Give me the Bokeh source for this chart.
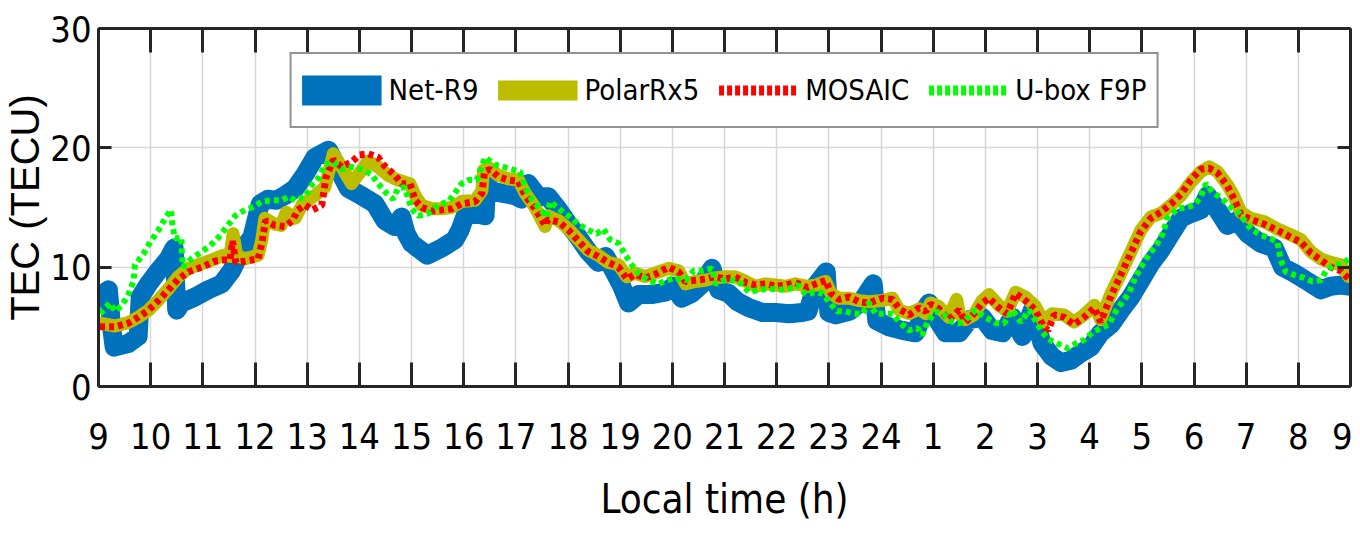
from bokeh.plotting import figure
from bokeh.models import FixedTicker, LinearAxis, Legend, LegendItem, Range1d, CustomLabelingPolicy
from bokeh.embed import file_html
from bokeh.resources import INLINE

# ---------------- data (hours continue past midnight: 25 = 1 h, 33 = 9 h) -------------
tick_hours = list(range(9, 34))
tick_labels = ["9", "10", "11", "12", "13", "14", "15", "16", "17", "18", "19", "20",
               "21", "22", "23", "24", "1", "2", "3", "4", "5", "6", "7", "8", "9"]
y_ticks = [0, 10, 20, 30]

hours_r9 = [9.0, 9.19, 9.25, 9.3, 9.57, 9.76, 9.8, 9.96, 10.15, 10.34, 10.45, 10.5, 10.59,
            10.85, 11.1, 11.36, 11.55, 11.74, 11.94, 12.1, 12.25, 12.41, 12.57, 12.77, 12.96,
            13.15, 13.41, 13.6, 13.79, 14.04, 14.3, 14.49, 14.68, 14.81, 14.9, 15.0, 15.3,
            15.58, 15.83, 15.93, 16.03, 16.22, 16.41, 16.44, 16.54, 16.73, 16.98, 17.11, 17.24,
            17.43, 17.62, 17.82, 18.01, 18.2, 18.39, 18.58, 18.72, 18.9, 19.03, 19.16, 19.35,
            19.6, 19.86, 20.02, 20.18, 20.37, 20.57, 20.76, 20.89, 21.08, 21.25, 21.47, 21.73,
            21.98, 22.24, 22.49, 22.6, 22.75, 22.95, 23.0, 23.13, 23.39, 23.64, 23.85, 23.92,
            24.15, 24.41, 24.66, 24.86, 24.92, 25.05, 25.24, 25.5, 25.69, 25.94, 26.13, 26.33,
            26.52, 26.71, 26.9, 27.09, 27.28, 27.45, 27.64, 27.83, 28.02, 28.21, 28.41, 28.6,
            28.79, 28.98, 29.17, 29.36, 29.56, 29.75, 29.94, 30.13, 30.26, 30.45, 30.64, 30.83,
            31.03, 31.28, 31.54, 31.7, 31.92, 32.18, 32.43, 32.62, 32.81, 33.0]
tec_r9 = [7.5, 8.1, 5.0, 3.3, 3.6, 4.2, 7.5, 8.6, 9.7, 10.7, 11.6, 6.4, 7.0,
          7.5, 8.1, 8.6, 9.7, 11.4, 12.5, 15.3, 15.7, 15.6, 16.0, 16.6, 17.8,
          19.2, 19.8, 18.2, 16.6, 16.0, 15.3, 13.9, 13.4, 14.2, 12.8, 12.0, 11.0,
          11.6, 12.3, 13.1, 14.3, 14.5, 14.3, 17.0, 16.4, 16.2, 16.0, 15.7, 17.0,
          15.9, 15.9, 14.8, 13.6, 12.5, 11.3, 10.4, 10.9, 9.5, 8.4, 7.0, 7.7,
          7.7, 7.9, 8.4, 7.4, 7.8, 8.6, 9.9, 8.1, 7.8, 7.1, 6.6, 6.2,
          6.2, 6.1, 6.2, 6.3, 8.5, 9.6, 6.2, 6.0, 6.3, 7.2, 8.6, 5.5,
          5.0, 4.7, 4.5, 6.6, 7.0, 5.8, 4.5, 4.5, 5.6, 5.8, 4.7, 4.5,
          5.8, 4.2, 6.4, 3.6, 2.5, 2.0, 2.2, 2.8, 3.3, 4.5, 5.2, 6.4,
          7.5, 8.9, 10.3, 11.4, 12.8, 14.1, 14.5, 14.8, 16.0, 14.8, 13.5, 13.9,
          12.8, 12.0, 11.6, 10.0, 9.5, 8.8, 8.1, 8.4, 8.5, 8.4]

hours_prx5 = [9.03, 9.32, 9.57, 9.76, 9.96, 10.15, 10.34, 10.53, 10.72, 10.98, 11.23, 11.39,
              11.52, 11.58, 11.65, 11.81, 12.06, 12.13, 12.19, 12.38, 12.5, 12.6, 12.77, 12.9,
              13.15, 13.34, 13.5, 13.66, 13.85, 14.04, 14.17, 14.36, 14.55, 14.74, 14.97, 15.07,
              15.19, 15.39, 15.58, 15.77, 15.96, 16.22, 16.35, 16.38, 16.47, 16.66, 16.86, 17.05,
              17.18, 17.37, 17.56, 17.62, 17.82, 18.01, 18.2, 18.39, 18.58, 18.77, 18.97, 19.13,
              19.29, 19.48, 19.67, 19.93, 20.12, 20.25, 20.44, 20.63, 20.82, 21.01, 21.2, 21.41,
              21.6, 21.79, 21.98, 22.17, 22.36, 22.59, 22.75, 22.94, 23.04, 23.19, 23.39, 23.58,
              23.77, 24.03, 24.22, 24.35, 24.54, 24.73, 24.86, 24.95, 25.11, 25.3, 25.45, 25.5,
              25.62, 25.78, 25.94, 26.07, 26.26, 26.42, 26.58, 26.77, 26.96, 27.12, 27.28, 27.51,
              27.7, 27.89, 28.09, 28.21, 28.41, 28.6, 28.79, 28.98, 29.17, 29.36, 29.56, 29.75,
              29.94, 30.13, 30.29, 30.45, 30.64, 30.77, 30.9, 31.09, 31.35, 31.6, 31.86, 32.05,
              32.24, 32.43, 32.62, 32.81, 32.97]
tec_prx5 = [5.3, 5.07, 5.35, 5.8, 6.4, 7.24, 8.2, 9.2, 9.9, 10.3, 10.7, 11.0,
            10.9, 12.8, 11.0, 10.7, 11.0, 12.3, 14.1, 13.6, 13.5, 14.6, 14.1, 15.2,
            16.0, 16.7, 19.5, 18.4, 17.0, 18.1, 18.9, 18.4, 17.7, 17.3, 17.0, 16.0,
            15.2, 14.9, 14.9, 15.0, 15.5, 15.6, 16.4, 18.1, 18.4, 17.7, 17.4, 17.3,
            16.2, 15.0, 13.4, 14.3, 13.9, 13.2, 12.3, 11.4, 11.0, 10.4, 10.2, 9.2,
            9.5, 9.2, 9.5, 9.9, 9.7, 8.6, 8.8, 8.9, 9.1, 9.2, 9.2, 8.8,
            8.4, 8.6, 8.5, 8.4, 8.6, 8.4, 8.5, 8.8, 7.8, 7.4, 7.4, 7.2,
            7.1, 7.2, 7.4, 6.4, 6.1, 6.5, 6.1, 7.0, 6.7, 5.8, 7.3, 6.1,
            5.6, 6.0, 7.2, 7.7, 6.8, 6.3, 7.9, 7.5, 6.7, 5.4, 6.1, 6.0,
            5.4, 6.0, 6.8, 5.6, 7.8, 9.5, 11.3, 13.1, 14.2, 14.5, 15.2, 16.0,
            17.1, 18.0, 18.4, 18.0, 16.9, 15.9, 14.6, 14.1, 13.8, 13.2, 12.7, 12.3,
            11.3, 10.7, 10.4, 10.2, 9.2]

hours_mosaic = [9.03, 9.32, 9.57, 9.76, 9.96, 10.15, 10.34, 10.53, 10.72, 10.98, 11.23, 11.39,
                11.52, 11.57, 11.63, 11.81, 12.06, 12.13, 12.2, 12.38, 12.57, 12.72, 12.82, 12.96,
                13.1, 13.28, 13.36, 13.5, 13.66, 13.85, 14.0, 14.17, 14.36, 14.48, 14.68, 14.81,
                14.97, 15.07, 15.2, 15.39, 15.58, 15.77, 15.96, 16.22, 16.35, 16.4, 16.5, 16.66,
                16.86, 17.05, 17.18, 17.37, 17.56, 17.62, 17.82, 18.01, 18.2, 18.39, 18.58, 18.77,
                18.97, 19.13, 19.29, 19.48, 19.67, 19.93, 20.12, 20.25, 20.44, 20.63, 20.82, 21.01,
                21.2, 21.41, 21.6, 21.79, 21.98, 22.17, 22.36, 22.59, 22.75, 22.94, 23.04, 23.19,
                23.39, 23.58, 23.77, 24.03, 24.22, 24.35, 24.54, 24.73, 24.86, 24.95, 25.11, 25.3,
                25.5, 25.62, 25.78, 25.94, 26.07, 26.26, 26.42, 26.58, 26.77, 26.96, 27.12, 27.2,
                27.32, 27.51, 27.7, 27.89, 28.09, 28.21, 28.41, 28.6, 28.79, 28.98, 29.17, 29.36,
                29.56, 29.75, 29.94, 30.13, 30.29, 30.45, 30.64, 30.77, 30.9, 31.09, 31.35, 31.6,
                31.86, 32.05, 32.24, 32.43, 32.62, 32.81, 32.97]
tec_mosaic = [5.0, 5.0, 5.3, 5.8, 6.4, 7.2, 8.1, 9.0, 9.6, 10.0, 10.5, 10.6,
              10.6, 12.2, 10.4, 10.5, 10.7, 12.0, 13.9, 13.5, 13.4, 13.9, 14.8, 15.2,
              14.8, 15.2, 17.5, 19.0, 18.4, 18.8, 19.4, 19.5, 19.2, 18.5, 17.7, 17.0,
              17.0, 15.6, 15.0, 14.7, 14.8, 14.9, 15.3, 15.5, 16.2, 18.0, 18.2, 17.6,
              17.3, 17.2, 16.0, 14.9, 13.5, 14.0, 13.8, 13.1, 12.2, 11.3, 10.9, 10.4,
              10.0, 9.0, 9.4, 9.1, 9.4, 10.0, 9.6, 8.8, 8.9, 9.0, 9.2, 9.0,
              9.2, 8.7, 8.5, 8.6, 8.4, 8.5, 8.7, 8.3, 8.6, 8.9, 7.8, 7.3,
              7.5, 7.1, 7.0, 7.4, 7.3, 6.5, 6.0, 6.6, 6.3, 6.9, 6.5, 5.6,
              6.4, 5.4, 6.1, 7.0, 7.4, 6.6, 6.1, 7.8, 7.2, 6.4, 5.0, 4.7,
              6.0, 5.8, 5.2, 5.8, 6.6, 5.4, 7.6, 9.4, 11.2, 13.0, 14.1, 14.6,
              15.3, 16.1, 17.3, 18.2, 18.3, 17.9, 16.8, 15.7, 14.4, 14.0, 13.6, 13.1,
              12.5, 12.1, 11.2, 10.6, 10.0, 9.7, 9.0]

hours_f9p = [9.03, 9.22, 9.32, 9.45, 9.57, 9.67, 9.7, 9.86, 9.99, 10.15, 10.28, 10.39, 10.42,
             10.47, 10.59, 10.6, 10.62, 10.78, 10.98, 11.14, 11.3, 11.46, 11.62, 11.81, 11.94,
             12.13, 12.32, 12.51, 12.64, 12.77, 12.96, 13.09, 13.22, 13.34, 13.5, 13.66, 13.85,
             14.04, 14.23, 14.36, 14.52, 14.65, 14.74, 14.87, 15.0, 15.13, 15.32, 15.51, 15.71,
             15.83, 15.96, 16.09, 16.25, 16.41, 16.6, 16.76, 16.92, 17.08, 17.18, 17.3, 17.46,
             17.59, 17.66, 17.85, 18.04, 18.2, 18.39, 18.55, 18.68, 18.81, 18.97, 19.09, 19.22,
             19.35, 19.54, 19.73, 19.89, 20.05, 20.25, 20.41, 20.57, 20.76, 20.82, 20.98, 21.17,
             21.33, 21.47, 21.66, 21.85, 22.04, 22.24, 22.4, 22.56, 22.72, 22.88, 23.0, 23.16,
             23.32, 23.48, 23.64, 23.77, 23.9, 24.06, 24.22, 24.35, 24.54, 24.7, 24.79, 24.89,
             25.05, 25.21, 25.37, 25.5, 25.62, 25.81, 26.0, 26.2, 26.36, 26.52, 26.68, 26.84,
             27.03, 27.19, 27.38, 27.58, 27.73, 27.89, 28.05, 28.21, 28.37, 28.5, 28.63, 28.76,
             28.88, 29.01, 29.14, 29.27, 29.4, 29.49, 29.68, 29.84, 30.0, 30.13, 30.23, 30.35,
             30.55, 30.71, 30.87, 31.09, 31.28, 31.47, 31.6, 31.66, 31.76, 31.95, 32.11, 32.27,
             32.43, 32.53, 32.69, 32.85, 32.97]
tec_f9p = [6.1, 7.0, 6.3, 6.8, 7.7, 8.8, 10.2, 11.1, 12.1, 13.1, 14.1, 14.8, 13.4,
           12.4, 12.5, 11.0, 10.0, 10.7, 11.3, 11.8, 12.5, 13.4, 14.3, 14.8, 15.0,
           15.5, 15.6, 15.6, 15.9, 15.6, 15.9, 16.9, 17.5, 18.6, 18.8, 18.2, 18.4,
           18.2, 17.8, 17.0, 16.2, 15.7, 16.6, 16.7, 14.9, 14.3, 14.5, 15.2, 15.5,
           16.2, 17.0, 17.3, 17.3, 19.2, 18.6, 18.4, 18.2, 18.0, 16.6, 15.7, 14.9,
           14.2, 15.5, 14.8, 14.2, 13.6, 13.1, 12.8, 13.2, 12.3, 12.0, 11.1, 10.2,
           9.5, 8.9, 8.6, 8.9, 9.1, 8.9, 9.7, 9.7, 9.9, 8.6, 8.9, 8.9,
           8.6, 7.9, 8.1, 8.2, 8.1, 8.2, 8.5, 7.7, 7.9, 7.8, 7.1, 6.3,
           6.3, 6.1, 6.1, 7.0, 6.1, 6.1, 6.1, 5.4, 4.7, 4.9, 4.3, 5.4,
           6.3, 6.0, 5.4, 5.3, 5.6, 6.4, 5.8, 5.3, 5.3, 6.4, 5.4, 6.4,
           5.0, 4.0, 3.6, 3.2, 3.6, 3.9, 4.5, 4.9, 5.2, 6.3, 7.1, 7.9,
           9.2, 10.2, 11.1, 11.8, 12.8, 14.1, 14.9, 15.0, 15.2, 15.9, 17.0, 16.3,
           15.7, 15.0, 14.5, 13.2, 12.7, 12.4, 12.1, 10.6, 9.6, 9.3, 9.1, 8.8,
           8.9, 9.7, 10.2, 10.3, 10.7]

series_names = ["Net-R9", "PolarRx5", "MOSAIC", "U-box F9P"]

# ---------------- styling -------------------------------------------------------------
NARROW = "'Liberation Sans Narrow', 'DejaVu Sans Condensed', 'Roboto Condensed', 'Liberation Sans', sans-serif"
AX = "#262626"
BLUE, OLIVE, RED, GREEN = "#0072BD", "#BDBD00", "#FF0000", "#00FF00"
NAN = float("nan")

p = figure(width=1352, height=535, x_range=Range1d(9, 33), y_range=Range1d(0, 30),
           output_backend="svg", toolbar_location=None,
           min_border_left=98, min_border_right=2, min_border_top=28, min_border_bottom=149)
p.outline_line_color = None
p.background_fill_color = "white"

bottom = p.below[0]
left = p.left[0]

r_r9 = p.line(hours_r9, tec_r9, line_color=BLUE, line_width=19, line_join="round", line_cap="round")
r_px = p.line(hours_prx5, tec_prx5, line_color=OLIVE, line_width=13, line_join="round", line_cap="round")
r_mo = p.line(hours_mosaic, tec_mosaic, line_color=RED, line_width=7, line_dash="5 4")
r_f9 = p.line(hours_f9p, tec_f9p, line_color=GREEN, line_width=6, line_dash="5 4")

# legend-only tokens (a single NaN point draws nothing in the plot area)
l_r9 = p.line([NAN], [NAN], line_color=BLUE, line_width=30)
l_px = p.line([NAN], [NAN], line_color=OLIVE, line_width=20)
l_mo = p.line([NAN], [NAN], line_color=RED, line_width=10, line_dash="5 3")
l_f9 = p.line([NAN], [NAN], line_color=GREEN, line_width=10, line_dash="5 3")

legend = Legend(items=[LegendItem(label=series_names[0], renderers=[l_r9]),
                       LegendItem(label=series_names[1], renderers=[l_px]),
                       LegendItem(label=series_names[2], renderers=[l_mo]),
                       LegendItem(label=series_names[3], renderers=[l_f9])],
                location="top_center", orientation="horizontal")
legend.label_text_font = NARROW
legend.label_text_font_size = "29px"
legend.label_text_color = "black"
legend.glyph_width = 80
legend.glyph_height = 52
legend.label_height = 52
legend.label_standoff = 7
legend.spacing = 19
legend.padding = 10
legend.margin = 24
legend.border_line_color = AX
legend.border_line_width = 2
legend.background_fill_alpha = 1
p.add_layout(legend)

xticker = FixedTicker(ticks=tick_hours)
yticker = FixedTicker(ticks=y_ticks)

bottom.ticker = xticker
bottom.major_label_overrides = {h: lab for h, lab in zip(tick_hours, tick_labels)}
left.ticker = yticker
p.xgrid.ticker = xticker
p.ygrid.ticker = yticker
p.grid.grid_line_color = "#d6d6d6"
p.grid.grid_line_width = 1.5

bottom.axis_label = "Local time (h)"
left.axis_label = "TEC (TECU)"

bottom.major_tick_in = 24
bottom.major_tick_out = 0
bottom.major_label_standoff = 36
bottom.axis_label_standoff = 24
bottom.axis_label_text_font = NARROW
bottom.axis_label_text_font_size = "40px"

left.major_tick_in = 13
left.major_tick_out = 0
left.major_label_standoff = 7
left.axis_label_standoff = 0
left.axis_label_text_font = "Liberation Sans"
left.axis_label_text_font_size = "40px"

no_labels = "for (const i of indices) indices.unset(i); return indices"
top = LinearAxis(ticker=xticker, major_tick_in=24, major_tick_out=0,
                 major_label_text_font_size="0px", major_label_standoff=0,
                 major_label_policy=CustomLabelingPolicy(code=no_labels))
right = LinearAxis(ticker=yticker, major_tick_in=13, major_tick_out=0,
                   major_label_text_font_size="0px", major_label_standoff=0,
                   major_label_policy=CustomLabelingPolicy(code=no_labels))
p.add_layout(top, "above")
p.add_layout(right, "right")

for ax in [bottom, left, top, right]:
    ax.axis_line_color = AX
    ax.axis_line_width = 3
    ax.major_tick_line_color = AX
    ax.major_tick_line_width = 3
    ax.minor_tick_line_color = None
    ax.major_label_text_color = "black"
    ax.axis_label_text_color = "black"
    ax.axis_label_text_font_style = "normal"

for ax in [bottom, left]:
    ax.major_label_text_font = NARROW
    ax.major_label_text_font_size = "36px"

open("out.html", "w").write(file_html(p, INLINE))
